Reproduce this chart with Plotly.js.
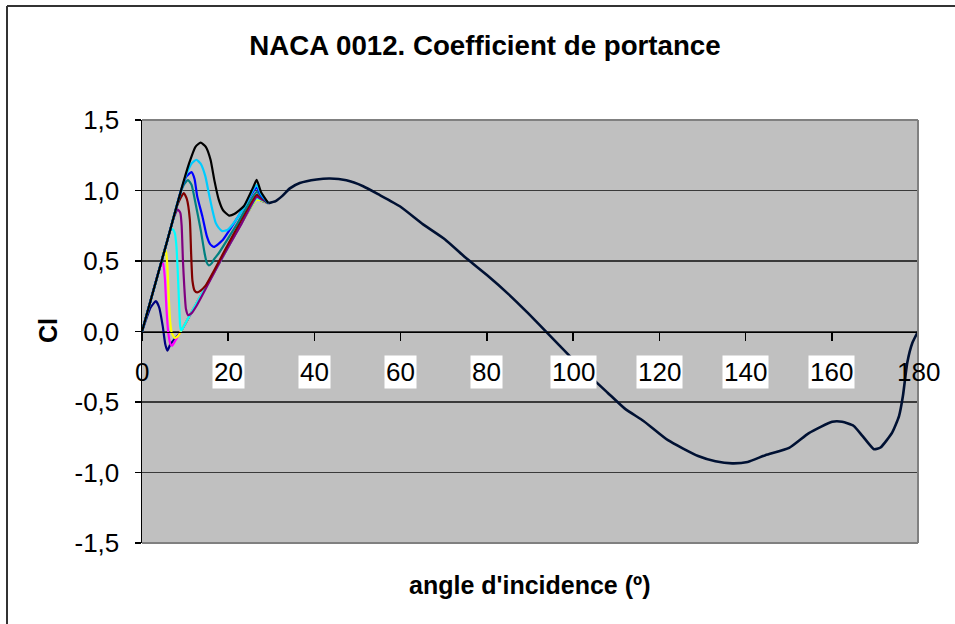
<!DOCTYPE html>
<html>
<head>
<meta charset="utf-8">
<script src="https://cdn.plot.ly/plotly-3.0.1.min.js"></script>
<style>
  html, body { margin: 0; padding: 0; background: #ffffff; }
  #chart { width: 955px; height: 624px; }
</style>
</head>
<body>
<div id="chart"></div>
<script>
// ---- data ----
const xTickVals = [0, 20, 40, 60, 80, 100, 120, 140, 160, 180];
const xTickLabels = ["0", "20", "40", "60", "80", "100", "120", "140", "160", "180"];
const yTickVals = [-1.5, -1.0, -0.5, 0, 0.5, 1.0, 1.5];
const yTickLabels = ["-1,5", "-1,0", "-0,5", "0,0", "0,5", "1,0", "1,5"];

const navyAngle = [0, 1, 2, 3.2, 4, 4.8, 5.4, 5.9, 6.6, 9, 13, 18, 23, 26.6, 27.6, 29.3];
const navyCl    = [0, 0.09, 0.17, 0.215, 0.17, 0.04, -0.09, -0.135, -0.09, 0.0, 0.22, 0.49, 0.765, 0.94, 0.93, 0.91];

const magentaAngle = [0, 2, 4, 4.6, 4.9, 5.3, 5.7, 6.1, 6.6, 7.0, 7.8, 9, 13, 18, 23, 26.6, 27.6, 29.3];
const magentaCl    = [0, 0.22, 0.44, 0.48, 0.485, 0.38, 0.15, -0.01, -0.09, -0.1, -0.06, 0.0, 0.22, 0.49, 0.765, 0.95, 0.935, 0.91];

const yellowAngle = [0, 2, 4, 4.8, 5.2, 5.6, 5.9, 6.2, 6.5, 6.9, 7.6, 8.3, 9, 13, 18, 23, 26.6, 27.6, 29.3];
const yellowCl    = [0, 0.22, 0.44, 0.53, 0.58, 0.56, 0.45, 0.25, 0.08, -0.01, -0.045, -0.035, 0.0, 0.22, 0.49, 0.765, 0.935, 0.93, 0.91];

const cyanAngle = [0, 2, 4, 6, 6.6, 7.1, 7.6, 8.0, 8.3, 8.6, 8.85, 9.1, 10, 13, 18, 23, 26.6, 27.6, 29.3];
const cyanCl    = [0, 0.22, 0.44, 0.66, 0.72, 0.725, 0.7, 0.6, 0.42, 0.2, 0.04, 0.005, 0.055, 0.22, 0.49, 0.765, 0.945, 0.935, 0.91];

const purpleAngle = [0, 2, 4, 6, 7.4, 8.3, 8.9, 9.2, 9.5, 9.8, 10.2, 10.7, 11.5, 12.8, 18, 23, 26.6, 27.6, 29.3];
const purpleCl    = [0, 0.22, 0.44, 0.66, 0.81, 0.865, 0.84, 0.75, 0.5, 0.323, 0.159, 0.116, 0.13, 0.19, 0.49, 0.76, 0.955, 0.94, 0.91];

const darkRedAngle = [0, 2, 4, 6, 8, 9, 9.7, 10.4, 11.1, 11.4, 11.7, 12.2, 12.8, 13.6, 14.7, 20, 26.6, 27.6, 29.3];
const darkRedCl    = [0, 0.22, 0.44, 0.66, 0.88, 0.95, 0.982, 0.94, 0.794, 0.55, 0.36, 0.29, 0.277, 0.29, 0.323, 0.62, 0.97, 0.95, 0.91];

const tealAngle = [0, 2, 4, 6, 8, 9, 9.9, 10.7, 11.5, 12.4, 13.6, 14.5, 15, 15.5, 16.2, 16.7, 17.8, 22, 26.6, 27.6, 29.3];
const tealCl    = [0, 0.22, 0.44, 0.66, 0.885, 0.99, 1.05, 1.074, 1.04, 0.912, 0.724, 0.559, 0.49, 0.469, 0.485, 0.512, 0.555, 0.76, 0.99, 0.96, 0.91];

const blueAngle = [0, 2, 4, 6, 8, 9, 10.3, 11.5, 12.2, 12.8, 14, 15, 15.8, 16.7, 18.6, 22, 26.6, 27.6, 29.3];
const blueCl    = [0, 0.22, 0.44, 0.66, 0.885, 0.995, 1.1, 1.13, 1.08, 0.96, 0.817, 0.68, 0.62, 0.6, 0.645, 0.8, 1.02, 0.965, 0.91];

const skyAngle = [0, 2, 4, 6, 8, 9, 10.5, 11.6, 12.6, 13.6, 14.7, 15.5, 16.3, 17.1, 17.8, 18.6, 19.8, 21.3, 24, 26.6, 27.6, 29.3];
const skyCl    = [0, 0.22, 0.44, 0.66, 0.885, 0.995, 1.13, 1.195, 1.218, 1.19, 1.1, 0.98, 0.865, 0.77, 0.735, 0.712, 0.72, 0.77, 0.9, 1.04, 0.975, 0.91];

const blackAngle = [0, 2, 4, 6, 8, 9, 10.9, 12.4, 13.6, 14.8, 15.9, 16.8, 17.8, 18.8, 20.2, 21.5, 23.6, 25.9, 26.6, 27.6, 29.3];
const blackCl    = [0, 0.22, 0.44, 0.66, 0.885, 0.995, 1.19, 1.31, 1.34, 1.31, 1.218, 1.07, 0.935, 0.86, 0.822, 0.835, 0.888, 1.03, 1.076, 0.99, 0.91];

const tailAngle = [29.3, 31, 32.5, 34.3, 36.6, 40.5, 43.6, 47.4, 51.3, 55, 59.8, 65.2, 70.3, 75.3, 80, 85, 89.6, 94, 99.4, 104, 108, 112, 116.4, 122, 129, 133, 136.9, 140.5, 144.6, 150.1, 154.7, 160.1, 162.4, 165.1, 167.1, 169.8, 171.3, 174, 175.6, 176.5, 177.5, 178.7, 180];
const tailCl    = [0.91, 0.925, 0.96, 1.015, 1.053, 1.078, 1.085, 1.072, 1.03, 0.97, 0.888, 0.76, 0.653, 0.517, 0.4, 0.265, 0.128, -0.01, -0.18, -0.32, -0.434, -0.547, -0.636, -0.771, -0.883, -0.92, -0.935, -0.925, -0.877, -0.825, -0.72, -0.64, -0.64, -0.67, -0.74, -0.835, -0.823, -0.717, -0.6, -0.458, -0.223, -0.08, 0.0];

const seriesList = [
  {x: navyAngle, y: navyCl, color: "#000080"},
  {x: magentaAngle, y: magentaCl, color: "#FF00FF"},
  {x: yellowAngle, y: yellowCl, color: "#FFFF00"},
  {x: cyanAngle, y: cyanCl, color: "#00FFFF"},
  {x: purpleAngle, y: purpleCl, color: "#800080"},
  {x: darkRedAngle, y: darkRedCl, color: "#800000"},
  {x: tealAngle, y: tealCl, color: "#008080"},
  {x: blueAngle, y: blueCl, color: "#0000FF"},
  {x: skyAngle, y: skyCl, color: "#00CCFF"},
  {x: blackAngle, y: blackCl, color: "#000000"}
];

const FONT = "Liberation Sans, Arial, sans-serif";

const traces = seriesList.map(s => ({
  type: "scatter", mode: "lines", x: s.x, y: s.y,
  line: {color: s.color, width: 2.2, shape: "spline", smoothing: 0.5},
  hoverinfo: "skip", showlegend: false
}));
traces.push({
  type: "scatter", mode: "lines", x: tailAngle, y: tailCl,
  line: {color: "#001133", width: 2.6, shape: "spline", smoothing: 0.5},
  hoverinfo: "skip", showlegend: false
});

// plot area in pixels: x 142..918, y 120..543
const L = 142, R = 37, T = 120, B = 81;
const PW = 955 - L - R, PH = 624 - T - B;
const px2paperX = p => (p - L) / PW;
const py2paperY = p => (624 - B - p) / PH;

const annotations = xTickVals.map((v, i) => ({
  x: v, y: 0, xref: "x", yref: "y",
  text: xTickLabels[i], showarrow: false,
  xanchor: "center", yanchor: "middle", yshift: -40,
  font: {family: FONT, size: 26, color: "#000000"},
  bgcolor: (i > 0 && i < xTickVals.length - 1) ? "#FFFFFF" : "rgba(0,0,0,0)",
  borderpad: 1
}));
annotations.push({
  x: 0.5, y: py2paperY(585), xref: "paper", yref: "paper",
  text: "<b>angle d'incidence (º)</b>", showarrow: false,
  xanchor: "center", yanchor: "middle",
  font: {family: FONT, size: 25, color: "#000000"}
});
annotations.push({
  x: px2paperX(48), y: py2paperY(331), xref: "paper", yref: "paper",
  text: "<b>Cl</b>", showarrow: false, textangle: -90,
  xanchor: "center", yanchor: "middle",
  font: {family: FONT, size: 25, color: "#000000"}
});

const layout = {
  width: 955, height: 624,
  margin: {l: L, r: R, t: T, b: B, pad: 0},
  paper_bgcolor: "#FFFFFF",
  plot_bgcolor: "#C0C0C0",
  showlegend: false,
  title: {
    text: "<b>NACA 0012. Coefficient de portance</b>",
    font: {family: FONT, size: 27.7, color: "#000000"},
    xref: "paper", x: px2paperX(485), xanchor: "center",
    yref: "container", y: 1 - 45 / 624, yanchor: "middle"
  },
  xaxis: {
    range: [0, 180],
    tickvals: xTickVals, ticktext: xTickLabels,
    showticklabels: false,
    ticks: "outside", ticklen: 8, tickwidth: 1.5, tickcolor: "#000000",
    showgrid: false, zeroline: false,
    showline: true, linecolor: "#000000", linewidth: 1.5,
    anchor: "free", position: 0.5,
    fixedrange: true
  },
  yaxis: {
    range: [-1.5, 1.5],
    tickvals: yTickVals, ticktext: yTickLabels,
    ticks: "outside", ticklen: 6, tickwidth: 1.5, tickcolor: "#000000",
    ticklabelstandoff: 10,
    tickfont: {family: FONT, size: 26, color: "#000000"},
    showgrid: true, gridcolor: "#3a3a3a", gridwidth: 1.5,
    zeroline: false,
    showline: true, linecolor: "#000000", linewidth: 1.5,
    fixedrange: true
  },
  shapes: [
    {type: "line", xref: "paper", yref: "paper", x0: 0, x1: 1, y0: 1, y1: 1, line: {color: "#808080", width: 2}},
    {type: "line", xref: "paper", yref: "paper", x0: 1, x1: 1, y0: 0, y1: 1, line: {color: "#808080", width: 2}},
    {type: "line", xref: "paper", yref: "paper", x0: 0, x1: 1, y0: 0, y1: 0, line: {color: "#808080", width: 2}},
    {type: "line", xref: "paper", yref: "paper", x0: px2paperX(7), x1: px2paperX(960), y0: py2paperY(6), y1: py2paperY(6), line: {color: "#333333", width: 2}},
    {type: "line", xref: "paper", yref: "paper", x0: px2paperX(7), x1: px2paperX(7), y0: py2paperY(6), y1: py2paperY(630), line: {color: "#333333", width: 2}}
  ],
  annotations: annotations
};

Plotly.newPlot("chart", traces, layout, {displayModeBar: false, staticPlot: true});
</script>
</body>
</html>
